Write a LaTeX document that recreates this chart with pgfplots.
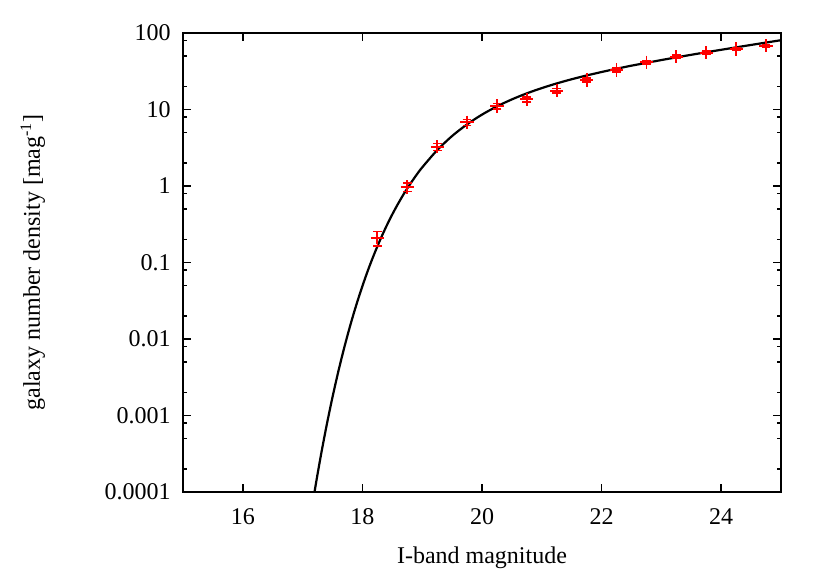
\documentclass[border=0pt]{standalone}
\usepackage{fontspec}
\setmainfont{Liberation Serif}
\usepackage{pgfplots}
\pgfplotsset{compat=1.18}
\begin{document}
\fontsize{12}{14}\selectfont
\begin{tikzpicture}
  \path[use as bounding box] (0,0) rectangle (415pt,290.5pt);
  \begin{axis}[
      at={(91.5pt,44.5pt)}, anchor=south west,
      scale only axis,
      width=299pt, height=229.5pt,
      ymode=log,
      xmin=15, xmax=25,
      ymin=1e-4, ymax=100,
      axis line style={line width=1pt},
      tick style={line width=0.8pt, black},
      tick align=inside,
      major tick length=4pt,
      minor tick length=2pt,
      xtick={16,18,20,22,24},
      xticklabels={16,18,20,22,24},
      ytick={1e-4,1e-3,1e-2,0.1,1,10,100},
      yticklabels={0.0001,0.001,0.01,0.1,1,10,100},
      minor ytick={2e-4,5e-4,8e-4,2e-3,5e-3,8e-3,0.02,0.05,0.08,0.2,0.5,0.8,2,5,8,20,50,80},
      xticklabel style={yshift=-4pt},
      yticklabel style={xshift=-2pt},
      xlabel={I-band magnitude},
      ylabel={galaxy number density [mag\textsuperscript{-1}]},
      xlabel style={at={(axis description cs:0.5,-0.144)}, anchor=center},
      ylabel style={at={(axis description cs:-0.251,0.5)}, anchor=center},
      clip=true,
    ]
    % model curve
    \addplot[black, line width=1.1pt, smooth] coordinates {
      (17.1,3.25e-5) (17.2,1.009e-4) (17.3,2.84e-4) (17.4,7.31e-4)
      (17.5,1.738e-3) (17.6,3.837e-3) (17.7,7.91e-3) (17.8,0.01535)
      (17.9,0.02818) (18.0,0.04909) (18.1,0.08185) (18.2,0.1303)
      (18.3,0.2000) (18.4,0.2965) (18.5,0.4256) (18.6,0.5929)
      (18.7,0.8054) (18.8,1.064) (18.9,1.380) (19.0,1.750)
      (19.25,2.938) (19.5,4.50) (19.75,6.39) (20.0,8.57)
      (20.25,10.98) (20.5,13.55) (20.75,16.26) (21.0,19.05)
      (21.25,21.92) (21.5,24.85) (21.75,27.84) (22.0,30.9)
      (22.25,34.1) (22.5,37.4) (22.75,40.7) (23.0,44.3)
      (23.25,48.0) (23.5,51.9) (23.75,56.0) (24.0,60.3)
      (24.25,64.9) (24.5,69.8) (25.0,80.5)
    };
    % measured counts
    \addplot[red, only marks, mark=+, mark size=3.3pt, line width=0.9pt,
      error bars/.cd, y dir=both, y explicit,
      error bar style={red, line width=0.8pt},
      error mark options={rotate=90, mark size=2.2pt, red, line width=0.8pt}]
      coordinates {
      (18.25,0.21) +- (0,0.045)
      (18.75,0.97) +- (0,0.12)
      (19.25,3.25) +- (0,0.35)
      (19.75,6.8) +- (0,0.6)
      (20.25,11.1) +- (0,0.9)
      (20.75,13.6) +- (0,1.0)
      (21.25,17.5) +- (0,1.2)
      (21.75,24.3) +- (0,1.5)
      (22.25,32.8) +- (0,1.8)
      (22.75,41.4) +- (0,2.2)
      (23.25,49.0) +- (0,2.4)
      (23.75,55.4) +- (0,2.6)
      (24.25,61.7) +- (0,2.8)
      (24.75,68.0) +- (0,3.0)
    };
  \end{axis}
\end{tikzpicture}
\end{document}
